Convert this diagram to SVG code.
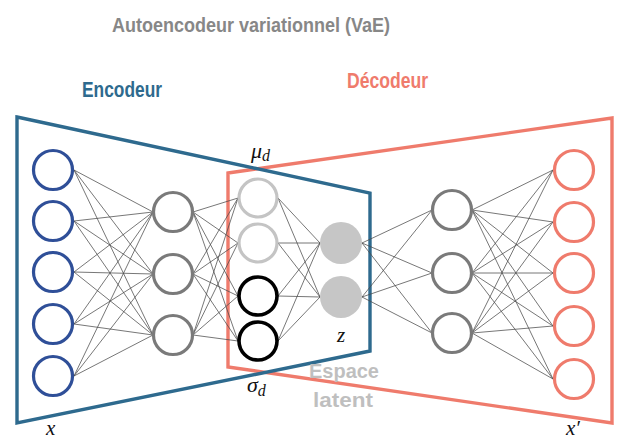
<svg xmlns="http://www.w3.org/2000/svg" width="621" height="440" viewBox="0 0 621 440">
<style>
.bg{fill:#ffffff}
.frame{fill:none;stroke-width:3.4;stroke-linejoin:miter}
.enc{stroke:#2e6a8e}
.dec{stroke:#ef7b6c}
.conn{fill:none;stroke:#4a4a4a;stroke-width:0.75}
.nin{fill:#fff;stroke:#2f4f98;stroke-width:3.2}
.nhid{fill:#fff;stroke:#7a7a7a;stroke-width:3.2}
.nmu{fill:#fff;stroke:#c4c4c4;stroke-width:3.2}
.nsig{fill:#fff;stroke:#000;stroke-width:3.6}
.nz{fill:#c6c6c6;stroke:none}
.nout{fill:#fff;stroke:#ef7b6c;stroke-width:3.2}
.sans{font-family:"Liberation Sans",Arial,sans-serif;font-weight:bold}
.math{font-family:"Liberation Serif","DejaVu Serif",serif;font-style:italic;fill:#111}
</style>
<rect class="bg" x="0" y="0" width="621" height="440"/>
<text class="sans" x="112" y="32" font-size="21" fill="#878787" textLength="278" lengthAdjust="spacingAndGlyphs">Autoencodeur variationnel (VaE)</text>
<text class="sans" x="82" y="97" font-size="22" fill="#2e6a8e" textLength="80" lengthAdjust="spacingAndGlyphs">Encodeur</text>
<text class="sans" x="347" y="88" font-size="22" fill="#ef7b6c" textLength="81" lengthAdjust="spacingAndGlyphs">Décodeur</text>
<g id="decoder-frame"><polygon class="frame dec" points="228,173 612,118 612,423 228,367"/></g>
<g id="encoder-frame"><polygon class="frame enc" points="17,117 370,193 370,351 17,423"/></g>
<g id="connectors">
<path class="conn" d="M74 170L153 212M74 170L153 274M74 170L153 335M74 221L153 212M74 221L153 274M74 221L153 335M74 272L153 212M74 272L153 274M74 272L153 335M74 324L153 212M74 324L153 274M74 324L153 335M74 376L153 212M74 376L153 274M74 376L153 335"/>
<path class="conn" d="M193 212L238 198M193 212L238 243M193 212L238 296M193 212L238 341M193 274L238 198M193 274L238 243M193 274L238 296M193 274L238 341M193 335L238 198M193 335L238 243M193 335L238 296M193 335L238 341"/>
<path class="conn" d="M278 198L320 243M278 198L320 297M278 243L320 243M278 243L320 297M278 296L320 243M278 296L320 297M278 341L320 243M278 341L320 297"/>
<path class="conn" d="M362 243L432 210M362 243L432 273M362 243L432 333M362 297L432 210M362 297L432 273M362 297L432 333"/>
<path class="conn" d="M472 210L553 170M472 210L553 222M472 210L553 273M472 210L553 326M472 210L553 379M472 273L553 170M472 273L553 222M472 273L553 273M472 273L553 326M472 273L553 379M472 333L553 170M472 333L553 222M472 333L553 273M472 333L553 326M472 333L553 379"/>
</g>
<g id="input-nodes">
<circle class="nin" cx="53" cy="170" r="19.5"/>
<circle class="nin" cx="53" cy="221" r="19.5"/>
<circle class="nin" cx="53" cy="272" r="19.5"/>
<circle class="nin" cx="53" cy="324" r="19.5"/>
<circle class="nin" cx="53" cy="376" r="19.5"/>
</g>
<g id="encoder-hidden">
<circle class="nhid" cx="173" cy="212" r="19.5"/>
<circle class="nhid" cx="173" cy="274" r="19.5"/>
<circle class="nhid" cx="173" cy="335" r="19.5"/>
</g>
<g id="mu-nodes">
<circle class="nmu" cx="258" cy="198" r="19"/>
<circle class="nmu" cx="258" cy="243" r="19"/>
</g>
<g id="sigma-nodes">
<circle class="nsig" cx="258" cy="296" r="19"/>
<circle class="nsig" cx="258" cy="341" r="19"/>
</g>
<g id="latent-z">
<circle class="nz" cx="341" cy="243" r="21"/>
<circle class="nz" cx="341" cy="297" r="21"/>
</g>
<g id="decoder-hidden">
<circle class="nhid" cx="452" cy="210" r="19.5"/>
<circle class="nhid" cx="452" cy="273" r="19.5"/>
<circle class="nhid" cx="452" cy="333" r="19.5"/>
</g>
<g id="output-nodes">
<circle class="nout" cx="574" cy="170" r="19.5"/>
<circle class="nout" cx="574" cy="222" r="19.5"/>
<circle class="nout" cx="574" cy="273" r="19.5"/>
<circle class="nout" cx="574" cy="326" r="19.5"/>
<circle class="nout" cx="574" cy="379" r="19.5"/>
</g>
<g id="labels">
<text class="math" x="251" y="158" font-size="22">μ<tspan font-size="16" dy="3">d</tspan></text>
<text class="math" x="247" y="392" font-size="22">σ<tspan font-size="16" dy="4">d</tspan></text>
<text class="math" x="337" y="342" font-size="21">z</text>
<text class="math" x="46" y="435" font-size="21">x</text>
<text class="math" x="566" y="435" font-size="21">x′</text>
<text class="sans" x="309" y="378" font-size="20" fill="#bfbfbf" textLength="70" lengthAdjust="spacingAndGlyphs">Espace</text>
<text class="sans" x="313" y="407" font-size="20" fill="#bfbfbf" textLength="60" lengthAdjust="spacingAndGlyphs">latent</text>
</g>
</svg>
